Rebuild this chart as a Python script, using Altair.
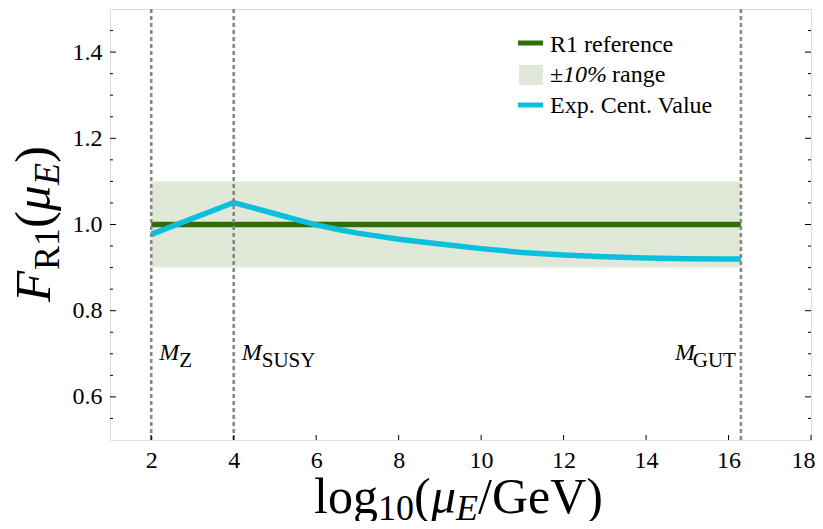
import altair as alt
import pandas as pd

# ---- data ----
curve_x = [2, 4, 4.5, 5, 5.5, 6, 6.5, 7, 7.5, 8, 9, 10, 11, 12, 13, 14, 15, 16, 16.3]
curve_y = [0.977, 1.051, 1.038, 1.025, 1.012, 0.999, 0.989, 0.980, 0.973, 0.966,
           0.955, 0.944, 0.935, 0.929, 0.925, 0.922, 0.9205, 0.920, 0.920]
ref_x = [2, 16.3]
ref_value = 1.0
band_low = 0.9
band_high = 1.1
scale_x = [2, 4, 16.3]
scale_subs = ["Z", "SUSY", "GUT"]
scale_label_y = 0.686
x_tick_values = [2, 4, 6, 8, 10, 12, 14, 16, 18]
y_major_values = [0.6, 0.8, 1.0, 1.2, 1.4]
y_minor_values = [0.55, 0.65, 0.7, 0.75, 0.85, 0.9, 0.95, 1.05, 1.1, 1.15,
                  1.25, 1.3, 1.35, 1.45]

W, H = 701, 431
SERIF = "Liberation Serif"
GREEN = "#306e04"
BAND = "#e0e9d8"
CYAN = "#0cc0dc"
GREY = "#888888"

xs = alt.Scale(domain=[1, 18], nice=False, zero=False)
ys = alt.Scale(domain=[0.5, 1.5], nice=False, zero=False)

one = pd.DataFrame({"a": [0]})

band_df = pd.DataFrame({"x": [ref_x[0]], "x2": [ref_x[1]], "lo": [band_low], "hi": [band_high]})
band = alt.Chart(band_df).mark_rect(color=BAND).encode(
    x=alt.X("x:Q", scale=xs,
            axis=alt.Axis(values=x_tick_values, title=None, grid=False, ticks=False,
                          tickSize=0, domain=False, labelFont=SERIF, labelFontSize=24,
                          labelColor="black", labelPadding=8, labelFlush=True,
                          labelFlushOffset=4)),
    x2="x2:Q",
    y=alt.Y("lo:Q", scale=ys,
            axis=alt.Axis(values=y_major_values, format=".1f", title=None, grid=False,
                          ticks=False, tickSize=0, domain=False, labelFont=SERIF,
                          labelFontSize=24, labelColor="black", labelPadding=8,
                          labelFlush=False)),
    y2="hi:Q",
)

ref_df = pd.DataFrame({"x": ref_x, "y": [ref_value] * len(ref_x)})
ref_line = alt.Chart(ref_df).mark_line(color=GREEN, strokeWidth=5.5).encode(
    x=alt.X("x:Q", scale=xs), y=alt.Y("y:Q", scale=ys))

curve_df = pd.DataFrame({"x": curve_x, "y": curve_y})
curve = alt.Chart(curve_df).mark_line(color=CYAN, strokeWidth=5.5, strokeJoin="miter").encode(
    x=alt.X("x:Q", scale=xs), y=alt.Y("y:Q", scale=ys))

vl_df = pd.DataFrame({"x": scale_x})
vlines = alt.Chart(vl_df).mark_rule(color=GREY, strokeWidth=2.6, strokeDash=[4, 3]).encode(
    x=alt.X("x:Q", scale=xs), y=alt.value(0), y2=alt.value(H))

# scale labels M_Z, M_SUSY, M_GUT
lab_df = pd.DataFrame({"x": scale_x, "sub": scale_subs, "y": [scale_label_y] * 3})
left_lab = lab_df[lab_df["sub"] != "GUT"]
right_lab = lab_df[lab_df["sub"] == "GUT"]
m_left = alt.Chart(left_lab).mark_text(font=SERIF, fontSize=24, fontStyle="italic",
                                       align="left", baseline="alphabetic", dx=8).encode(
    x=alt.X("x:Q", scale=xs), y=alt.Y("y:Q", scale=ys), text=alt.value("M"))
s_left = alt.Chart(left_lab).mark_text(font=SERIF, fontSize=21, align="left",
                                       baseline="alphabetic", dx=28, dy=7).encode(
    x=alt.X("x:Q", scale=xs), y=alt.Y("y:Q", scale=ys), text="sub:N")
s_right = alt.Chart(right_lab).mark_text(font=SERIF, fontSize=21, align="right",
                                         baseline="alphabetic", dx=-5, dy=7).encode(
    x=alt.X("x:Q", scale=xs), y=alt.Y("y:Q", scale=ys), text="sub:N")
m_right = alt.Chart(right_lab).mark_text(font=SERIF, fontSize=24, fontStyle="italic",
                                         align="right", baseline="alphabetic", dx=-46).encode(
    x=alt.X("x:Q", scale=xs), y=alt.Y("y:Q", scale=ys), text=alt.value("M"))

# inward ticks
ymaj_df = pd.DataFrame({"y": y_major_values})
ymin_df = pd.DataFrame({"y": y_minor_values})
xt_df = pd.DataFrame({"x": x_tick_values})
tick_style = dict(color="black", strokeWidth=1)
ticks = [
    alt.Chart(ymaj_df).mark_rule(**tick_style).encode(
        y=alt.Y("y:Q", scale=ys), x=alt.value(0), x2=alt.value(6)),
    alt.Chart(ymaj_df).mark_rule(**tick_style).encode(
        y=alt.Y("y:Q", scale=ys), x=alt.value(W - 6), x2=alt.value(W)),
    alt.Chart(ymin_df).mark_rule(**tick_style).encode(
        y=alt.Y("y:Q", scale=ys), x=alt.value(0), x2=alt.value(3)),
    alt.Chart(ymin_df).mark_rule(**tick_style).encode(
        y=alt.Y("y:Q", scale=ys), x=alt.value(W - 3), x2=alt.value(W)),
    alt.Chart(xt_df).mark_rule(**tick_style).encode(
        x=alt.X("x:Q", scale=xs), y=alt.value(H - 5), y2=alt.value(H)),
]


def txt(s, x, y, size, italic=False, angle=0, dy=0, align="left"):
    props = dict(font=SERIF, fontSize=size, align=align, baseline="alphabetic",
                 color="black", dy=dy)
    if italic:
        props["fontStyle"] = "italic"
    if angle:
        props["angle"] = angle
    return alt.Chart(one).mark_text(**props).encode(
        x=alt.value(x), y=alt.value(y), text=alt.value(s))


# x title: log10(mu_E/GeV)
XB = 504
x_title = [
    txt("log", 204, XB, 50),
    txt("10", 268, XB, 36, dy=7),
    txt("(", 304, XB, 50),
    txt("\u03bc", 321, XB, 50, italic=True),
    txt("E", 346, XB, 36, italic=True, dy=7),
    txt("/GeV)", 368, XB, 50),
]

# y title: F_R1(mu_E), rotated
YX = -60
y_title = [
    txt("F", YX, 293, 51, italic=True, angle=270),
    txt("R1", YX, 261, 36, angle=270, dy=9),
    txt("(", YX, 219, 51, angle=270),
    txt("\u03bc", YX, 202, 51, italic=True, angle=270),
    txt("E", YX, 176, 36, italic=True, angle=270, dy=9),
    txt(")", YX, 154, 51, angle=270),
]

# legend
legend = [
    alt.Chart(one).mark_rule(color=GREEN, strokeWidth=5).encode(
        x=alt.value(408), x2=alt.value(433), y=alt.value(34)),
    txt("R1 reference", 440, 43, 24),
    alt.Chart(one).mark_rect(color=BAND).encode(
        x=alt.value(409), x2=alt.value(433), y=alt.value(56), y2=alt.value(76)),
    txt("\u00b1", 440, 73, 24),
    txt("10%", 453, 73, 24, italic=True),
    txt("range", 502, 73, 24),
    alt.Chart(one).mark_rule(color=CYAN, strokeWidth=5).encode(
        x=alt.value(408), x2=alt.value(433), y=alt.value(96)),
    txt("Exp. Cent. Value", 440, 104, 24),
]

chart = alt.layer(
    band, ref_line, curve, vlines, m_left, s_left, s_right, m_right,
    *ticks, *x_title, *y_title, *legend
).properties(
    width=W, height=H,
    autosize=alt.AutoSizeParams(type="none"),
    padding={"left": 102, "top": 1, "right": 4, "bottom": 81},
).configure_view(stroke="black", strokeWidth=1.2).configure_axis(
    labelFont=SERIF
).configure(background="white")

chart.save("out.html", embed_options={"renderer": "svg", "actions": False})
